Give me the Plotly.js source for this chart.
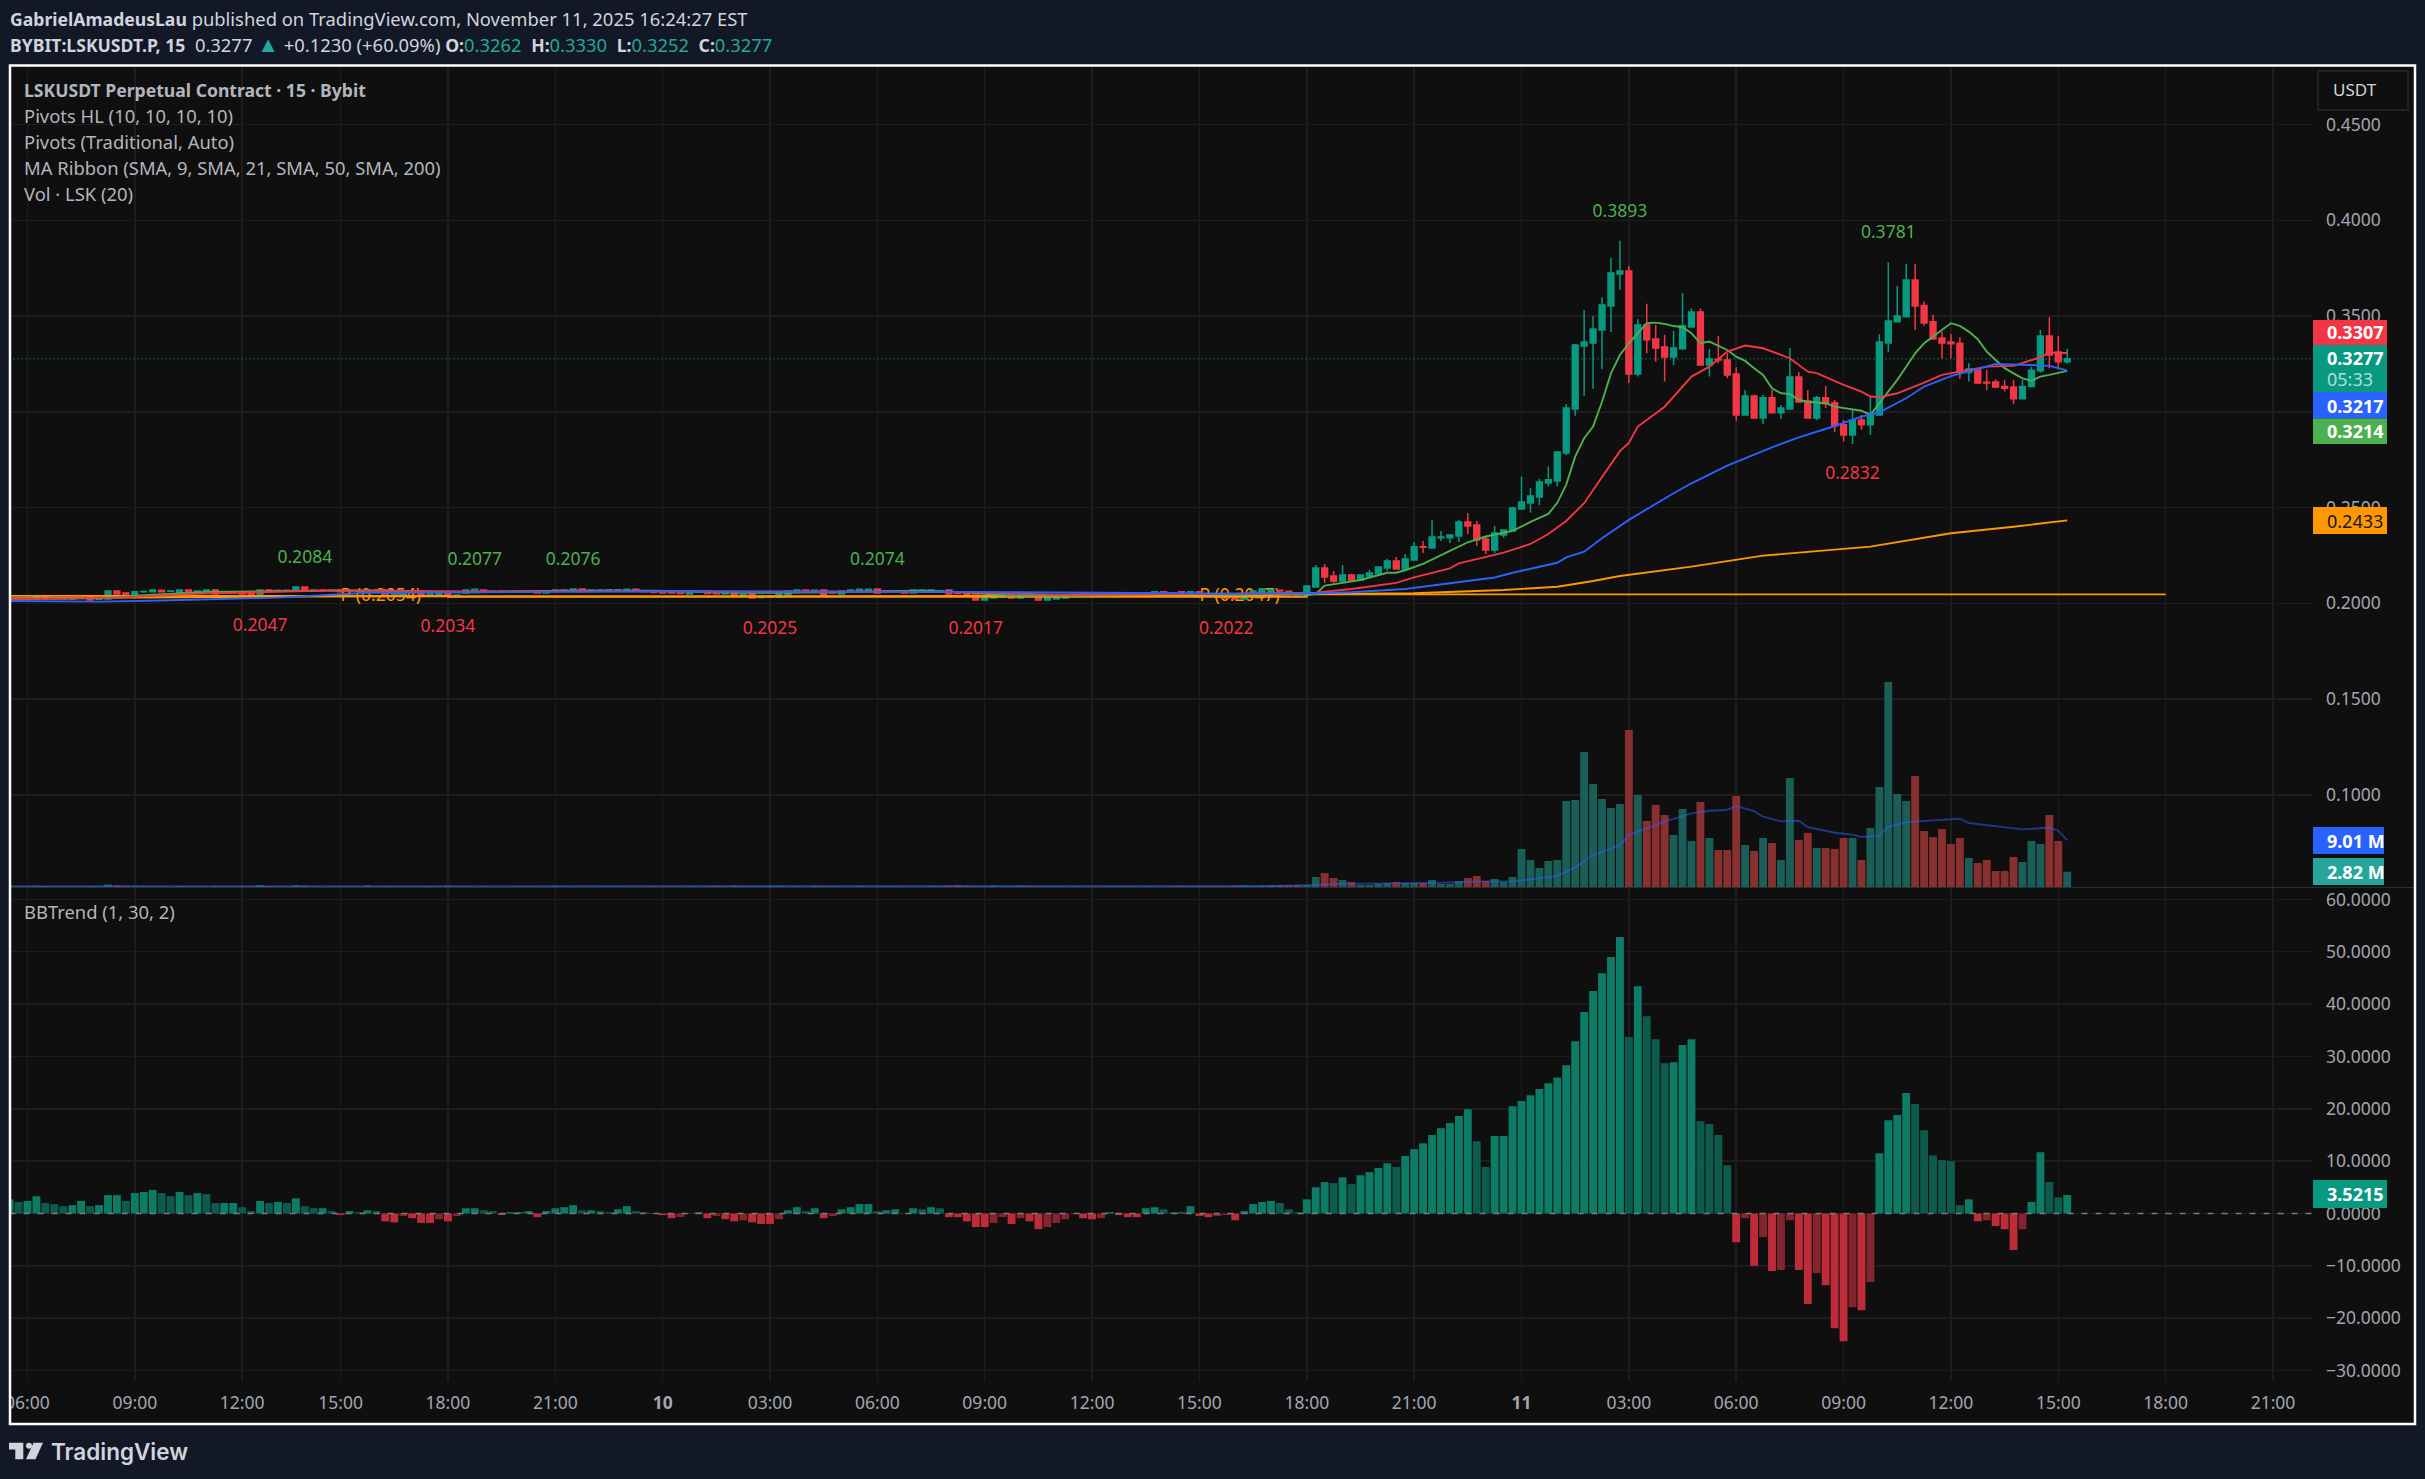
<!DOCTYPE html>
<html>
<head>
<meta charset="utf-8">
<script src="https://cdn.plot.ly/plotly-3.0.1.min.js"></script>
<style>html,body{margin:0;padding:0;background:#121826}</style>
</head>
<body>
<div id="myDiv" style="width:2425px;height:1479px"></div>
<script>
// bar 0 is 06:00 on the 9th, one bar is missing between 12:00 and 15:00
var firstBar = -2;
var tickBars = [0,12,24,35,47,59,71,83,95,107,119,131,143,155,167,179,191,203,215,227,239,251];
var tickText = ['06:00','09:00','12:00','15:00','18:00','21:00','<b>10</b>','03:00','06:00','09:00','12:00','15:00','18:00','21:00','<b>11</b>','03:00','06:00','09:00','12:00','15:00','18:00','21:00'];

var open = [
.2023,.2028,.2023,.2023,.2039,.2023,.2026,.2023,.2026,.2033,
.2021,.2023,.2065,.2054,.2039,.2060,.2060,.2068,.2063,.2054,
.2070,.2061,.2065,.2070,.2054,.2054,.2060,.2054,.2044,.2070,
.2065,.2065,.2065,.2086,.2065,.2070,.2067,.2070,.2065,.2067,
.2065,.2070,.2070,.2049,.2044,.2060,.2054,.2044,.2044,.2054,
.2039,.2054,.2070,.2070,.2063,.2065,.2062,.2065,.2063,.2065,
.2054,.2065,.2068,.2065,.2075,.2065,.2068,.2068,.2068,.2065,
.2074,.2062,.2060,.2060,.2060,.2054,.2049,.2060,.2064,.2052,
.2050,.2054,.2039,.2049,.2030,.2033,.2033,.2044,.2065,.2070,
.2060,.2070,.2060,.2049,.2065,.2065,.2065,.2075,.2060,.2060,
.2065,.2054,.2065,.2065,.2060,.2070,.2060,.2054,.2044,.2018,
.2028,.2033,.2049,.2028,.2054,.2044,.2018,.2023,.2028,.2039,
.2054,.2049,.2049,.2039,.2049,.2049,.2039,.2039,.2049,.2060,
.2054,.2060,.2044,.2060,.2049,.2044,.2039,.2039,.2023,.2044,
.2044,.2060,.2068,.2063,.2056,.2042,.2086,.2185,.2143,.2117,
.2148,.2120,.2143,.2154,.2185,.2221,.2179,.2227,.2295,.2289,
.2342,.2342,.2352,.2425,.2409,.2336,.2279,.2357,.2378,.2493,
.2524,.2556,.2629,.2639,.2785,.3015,.3344,.3360,.3428,.3553,
.3720,.3736,.3198,.3454,.3381,.3339,.3287,.3329,.3443,.3521,
.3245,.3275,.3271,.3198,.2984,.3083,.2968,.3073,.2995,.3015,
.3182,.3057,.2968,.3073,.3047,.2932,.2879,.2958,.2932,.2984,
.3360,.3470,.3496,.3689,.3556,.3470,.3386,.3365,.3358,.3205,
.3221,.3155,.3156,.3133,.3130,.3069,.3132,.3215,.3396,.3313,
.3262];
var close = [
.2023,.2016,.2026,.2039,.2023,.2026,.2023,.2026,.2028,.2018,
.2025,.2065,.2049,.2039,.2060,.2062,.2070,.2060,.2065,.2070,
.2060,.2065,.2070,.2049,.2060,.2060,.2049,.2044,.2070,.2065,
.2068,.2068,.2086,.2070,.2070,.2067,.2070,.2060,.2067,.2065,
.2070,.2067,.2049,.2054,.2060,.2054,.2044,.2049,.2054,.2039,
.2044,.2070,.2073,.2063,.2065,.2062,.2065,.2063,.2065,.2054,
.2065,.2070,.2070,.2075,.2061,.2070,.2070,.2071,.2071,.2074,
.2062,.2060,.2057,.2054,.2054,.2052,.2065,.2063,.2052,.2050,
.2054,.2039,.2046,.2028,.2039,.2039,.2049,.2065,.2070,.2060,
.2068,.2044,.2054,.2065,.2070,.2073,.2073,.2054,.2063,.2064,
.2054,.2070,.2070,.2070,.2065,.2049,.2052,.2039,.2018,.2033,
.2039,.2049,.2028,.2049,.2044,.2018,.2033,.2033,.2044,.2049,
.2044,.2039,.2039,.2054,.2039,.2039,.2049,.2054,.2060,.2049,
.2049,.2039,.2060,.2033,.2039,.2033,.2028,.2023,.2049,.2065,
.2075,.2070,.2065,.2049,.2044,.2091,.2185,.2138,.2117,.2148,
.2122,.2148,.2159,.2190,.2221,.2179,.2232,.2295,.2293,.2347,
.2347,.2357,.2425,.2404,.2331,.2279,.2368,.2383,.2498,.2529,
.2561,.2634,.2645,.2791,.3020,.3349,.3365,.3433,.3558,.3725,
.3736,.3198,.3454,.3376,.3334,.3287,.3334,.3449,.3521,.3245,
.3276,.3271,.3193,.2984,.3083,.2968,.3073,.2995,.3020,.3182,
.3052,.2968,.3073,.3042,.2927,.2879,.2958,.2932,.2991,.3365,
.3475,.3501,.3689,.3553,.3464,.3381,.3360,.3356,.3205,.3224,
.3151,.3151,.3130,.3123,.3069,.3133,.3217,.3396,.3297,.3261,
.3277];
var high = [
.2028,.2030,.2028,.2041,.2041,.2028,.2028,.2028,.2030,.2035,
.2026,.2067,.2067,.2056,.2060,.2067,.2070,.2070,.2067,.2072,
.2072,.2067,.2072,.2072,.2062,.2063,.2062,.2056,.2072,.2075,
.2070,.2070,.2088,.2088,.2072,.2072,.2072,.2072,.2070,.2070,
.2072,.2072,.2072,.2056,.2062,.2062,.2056,.2051,.2056,.2056,
.2046,.2072,.2077,.2072,.2067,.2067,.2067,.2067,.2067,.2067,
.2067,.2072,.2072,.2077,.2077,.2072,.2072,.2073,.2073,.2076,
.2076,.2064,.2062,.2062,.2062,.2056,.2067,.2065,.2066,.2054,
.2056,.2056,.2049,.2051,.2041,.2041,.2051,.2067,.2072,.2072,
.2070,.2072,.2062,.2067,.2072,.2075,.2075,.2077,.2065,.2066,
.2067,.2072,.2072,.2072,.2067,.2072,.2062,.2056,.2046,.2035,
.2041,.2051,.2051,.2051,.2056,.2046,.2035,.2035,.2046,.2051,
.2056,.2051,.2051,.2056,.2051,.2051,.2051,.2056,.2062,.2062,
.2056,.2062,.2062,.2062,.2051,.2046,.2041,.2041,.2051,.2067,
.2077,.2072,.2070,.2065,.2058,.2096,.2200,.2206,.2169,.2200,
.2154,.2148,.2175,.2190,.2232,.2242,.2258,.2321,.2326,.2436,
.2378,.2357,.2436,.2472,.2430,.2352,.2404,.2383,.2505,.2661,
.2601,.2650,.2714,.2796,.3041,.3354,.3532,.3501,.3598,.3804,
.3893,.3762,.3484,.3564,.3454,.3402,.3423,.3619,.3540,.3540,
.3328,.3396,.3306,.3233,.3114,.3089,.3089,.3114,.3036,.3334,
.3208,.3114,.3083,.3135,.3062,.2958,.3015,.2984,.3080,.3405,
.3781,.3657,.3772,.3772,.3576,.3507,.3419,.3407,.3390,.3254,
.3224,.3219,.3170,.3167,.3167,.3167,.3236,.3428,.3494,.3397,
.3330];
var low = [
.2018,.2014,.2021,.2023,.2021,.2021,.2021,.2023,.2024,.2016,
.2018,.2023,.2047,.2037,.2037,.2056,.2058,.2058,.2061,.2054,
.2058,.2060,.2063,.2047,.2052,.2054,.2049,.2044,.2042,.2063,
.2063,.2063,.2065,.2068,.2063,.2065,.2065,.2058,.2063,.2063,
.2063,.2065,.2047,.2047,.2042,.2052,.2042,.2042,.2042,.2037,
.2037,.2052,.2068,.2061,.2061,.2060,.2060,.2061,.2061,.2052,
.2052,.2063,.2065,.2063,.2060,.2063,.2066,.2066,.2066,.2065,
.2060,.2058,.2055,.2052,.2052,.2050,.2047,.2058,.2050,.2049,
.2048,.2037,.2037,.2026,.2028,.2030,.2031,.2042,.2063,.2058,
.2058,.2042,.2052,.2047,.2063,.2063,.2063,.2052,.2058,.2058,
.2052,.2052,.2063,.2063,.2058,.2047,.2050,.2037,.2016,.2016,
.2026,.2031,.2026,.2026,.2042,.2016,.2016,.2021,.2026,.2037,
.2042,.2037,.2037,.2037,.2037,.2037,.2037,.2037,.2047,.2047,
.2047,.2037,.2042,.2031,.2037,.2031,.2026,.2021,.2021,.2042,
.2042,.2058,.2063,.2047,.2042,.2042,.2086,.2106,.2106,.2106,
.2112,.2120,.2133,.2154,.2169,.2179,.2179,.2227,.2263,.2289,
.2326,.2315,.2321,.2362,.2300,.2258,.2263,.2342,.2378,.2493,
.2474,.2514,.2610,.2610,.2775,.2979,.3083,.3120,.3224,.3417,
.3637,.3151,.3184,.3306,.3261,.3158,.3245,.3324,.3443,.3245,
.3184,.3254,.3175,.2954,.2984,.2968,.2937,.2993,.2963,.3015,
.3048,.2968,.2958,.3020,.2895,.2845,.2832,.2906,.2879,.2984,
.3313,.3470,.3496,.3428,.3449,.3376,.3278,.3278,.3172,.3158,
.3146,.3114,.3123,.3106,.3040,.3068,.3129,.3205,.3228,.3222,
.3252];

// volume in millions
var volume = [
.20,.22,.18,.30,.24,.16,.18,.15,.20,.26,
.18,.52,.34,.30,.28,.20,.18,.22,.16,.24,
.20,.18,.16,.26,.18,.16,.22,.20,.42,.24,
.18,.16,.40,.30,.18,.16,.20,.22,.18,.16,
.34,.20,.24,.18,.22,.16,.18,.26,.16,.30,
.20,.18,.16,.14,.16,.14,.16,.22,.18,.14,
.16,.24,.22,.16,.14,.14,.16,.20,.22,.16,
.14,.14,.18,.16,.20,.16,.22,.14,.18,.24,
.18,.28,.20,.22,.18,.26,.24,.16,.22,.16,
.24,.18,.20,.16,.14,.26,.16,.14,.20,.22,
.14,.14,.16,.26,.20,.28,.40,.26,.22,.20,
.28,.20,.18,.30,.24,.18,.20,.18,.16,.18,
.16,.14,.16,.18,.20,.22,.16,.18,.16,.14,
.22,.26,.20,.24,.18,.26,.22,.30,.34,.24,
.30,.36,.42,.42,.42,.42,1.86,2.58,1.68,1.32,
.96,.42,.42,.66,.78,.96,.78,.78,.78,1.32,
.60,.60,1.14,1.68,2.04,1.14,1.50,.96,1.86,6.90,
4.92,3.48,4.74,4.92,15.54,15.72,24.36,18.60,15.90,14.28,
15.00,28.32,16.62,11.94,14.82,13.02,9.42,14.10,8.34,15.36,
8.88,6.72,6.72,16.44,7.62,6.54,8.88,7.98,4.92,19.68,
8.52,9.78,7.08,7.08,6.90,8.88,8.88,4.92,10.68,18.06,
36.96,16.80,15.54,20.04,10.14,9.06,10.50,7.80,8.88,5.28,
4.38,4.92,2.94,2.94,5.46,4.56,8.34,7.80,13.02,8.34,
2.82];
var volMaBars = [-2,60,140,144,146,152,158,163,166,168,171,173,175,178,179,183,186,188,190,191,193,194,196,198,199,202,204,205,207,208,210,213,216,217,221,223,226,227,228];
var volMa = [.22,.24,.24,.42,.60,.72,.84,1.08,1.08,1.44,2.04,3.60,5.82,7.62,9.42,11.82,13.32,13.80,13.98,14.64,13.74,12.72,11.88,12.00,10.86,9.84,9.48,9.06,9.30,10.92,11.70,12.06,12.36,11.58,10.74,10.44,10.74,10.20,8.46];

var bbTrend = [
2.7,2.2,2.4,3.3,2.0,1.8,1.4,1.6,2.4,1.4,
1.6,3.5,3.5,2.4,3.9,4.1,4.5,3.9,3.3,4.1,
3.5,3.9,3.7,2,2,2,1.2,.45,2.4,2,
2.2,2,2.9,1.4,1,1,.45,-.3,.45,.25,
.6,.45,-1.5,-1.7,-.5,-.9,-1.8,-1.8,-1.1,-1.5,
-.5,1,1,.6,.45,-.3,.25,.25,.45,-.7,
.45,1,1.2,1.6,.6,.6,.45,.25,.8,1.4,
.45,.25,-.1,-.3,-.9,-.7,-.1,.25,-.9,-.5,
-1.1,-1.5,-1.3,-1.7,-2,-2,-1.1,.6,1.2,.45,
1,-.9,-.5,.8,1.2,1.8,1.8,.45,.6,.8,
.05,1,.8,1.2,1,-.7,-.7,-1.5,-2.6,-2.6,
-1.8,-.7,-2,-.9,-1.5,-3,-2.6,-1.8,-1.1,-.1,
-.9,-1.1,-.9,.25,-.3,-.7,-.7,1,1.2,.8,
.25,.25,1.4,-.5,-.7,-.5,-.3,-1.3,.45,1.8,
2.2,2.4,2,.8,.25,2.7,5,6,5.8,6.9,
5.6,7.3,7.9,8.7,9.6,8.9,11,12.3,13.4,15,
16.3,17.3,18.6,19.9,13.8,8.9,14.8,14.8,20.5,21.5,
22.6,23.8,24.9,26,28.3,32.9,38.5,42.5,45.9,49,
52.8,33.7,43.4,37.7,33.3,28.7,28.9,32.2,33.3,17.6,
17.1,15,9.2,-5.5,-.9,-10,-4.5,-11,-10.8,-1.3,
-10.8,-17.3,-11.4,-13.7,-21.9,-24.4,-17.9,-18.5,-13.1,11.5,
17.8,18.8,23,20.9,15.9,11.1,10.2,10,1.6,2.7,
-1.5,-1.3,-2.4,-3,-7,-3,2.2,11.7,6,3.1,
3.52];

var ma9Bars = [-2,8,12,20,30,37,45,50,60,70,80,90,100,104,110,118,128,135,140,143,144,145,147,149,152,153,154,156,159,161,163,166,168,170,171,172,173,174,175,176,177,178,179,180,181,182,183,184,185,186,187,188,189,190,191,192,193,194,195,196,197,198,199,200,201,202,203,204,205,206,207,208,209,210,211,212,213,214,215,216,217,218,219,220,221,222,223,224,225,226,227,228];
var ma9 = [.2024,.2026,.2040,.2060,.2065,.2068,.2060,.2058,.2066,.2066,.2055,.2058,.2066,.2060,.2040,.2040,.2050,.2045,.2052,.2046,.2049,.2093,.2107,.2122,.2160,.2160,.2173,.2206,.2274,.2319,.2349,.2378,.2425,.2467,.2525,.2620,.2766,.2862,.2923,.3053,.3201,.3297,.3358,.3410,.3463,.3466,.3459,.3448,.3442,.3410,.3358,.3367,.3346,.3323,.3288,.3266,.3228,.3193,.3123,.3097,.3094,.3062,.3053,.3050,.3045,.3027,.3020,.3013,.3006,.2984,.3045,.3106,.3167,.3236,.3306,.3358,.3393,.3428,.3463,.3449,.3419,.3379,.3315,.3271,.3228,.3201,.3175,.3163,.3184,.3193,.3205,.3214];
var ma21Bars = [-2,10,20,35,50,65,80,95,105,115,130,144,148,151,153,155,159,160,162,165,168,170,172,174,176,178,179,180,183,186,188,190,192,194,197,199,200,203,205,206,207,209,212,214,216,219,222,225,226,228];
var ma21 = [.2022,.2030,.2052,.2068,.2062,.2065,.2062,.2062,.2058,.2045,.2048,.2056,.2075,.2093,.2107,.2136,.2183,.2209,.2232,.2265,.2310,.2362,.2430,.2523,.2660,.2795,.2838,.2923,.3027,.3184,.3236,.3315,.3346,.3332,.3280,.3210,.3202,.3141,.3106,.3080,.3076,.3097,.3153,.3193,.3210,.3236,.3240,.3285,.3309,.3307];
var ma50Bars = [-2,8,15,28,38,50,70,90,105,120,135,144,148,154,159,161,164,166,169,171,172,174,176,178,179,184,186,190,195,198,202,205,207,210,212,215,220,224,226,228];
var ma50 = [.2012,.2009,.2015,.2030,.2055,.2058,.2062,.2060,.2060,.2055,.2050,.2053,.2058,.2075,.2105,.2120,.2135,.2160,.2192,.2212,.2240,.2270,.2340,.2405,.2436,.2575,.2627,.2719,.2815,.2867,.2926,.2975,.2998,.3071,.3132,.3187,.3250,.3245,.3240,.3217];
var ma200Bars = [-2,10,30,60,100,135,144,155,165,171,175,178,186,194,206,212,215,222,228];
var ma200 = [.2026,.2030,.2036,.2037,.2037,.2040,.2048,.2053,.2070,.2087,.2117,.2143,.2192,.2249,.2296,.2345,.2366,.2400,.2433];

// pivot point segments
var pivotBars = [-2,47,47,143,143,239];
var pivotLevels = [.2039,.2039,.2034,.2034,.2047,.2047];
var pivotLabelBars = [35,131];
var pivotLabels = ['P (0.2054)','P (0.2047)'];

// pivot high/low texts, second array is where the text sits on the price scale
var highBars = [31,50,61,95,178,208];
var highLabels = ['0.2084','0.2077','0.2076','0.2074','0.3893','0.3781'];
var highPos = [.2232,.2222,.2222,.2222,.4039,.3929];
var lowBars = [26,47,83,106,134,204];
var lowLabels = ['0.2047','0.2034','0.2025','0.2017','0.2022','0.2832'];
var lowPos = [.1877,.1872,.1863,.1862,.1862,.2672];

var lastPrice = .3277;

var barIdx = [];
for (var i = 0; i < close.length; i++) barIdx.push(firstBar + i);

var TEAL = '#089981', RED = '#F23645', ORANGE = '#FF9800', GREEN = '#4CAF50', BLUE = '#2962FF';
var FONT = '"Noto Sans", sans-serif';

var volColors = [], bbColors = [];
for (var i = 0; i < close.length; i++) {
  volColors.push(close[i] >= open[i] ? '#1B5E57' : '#87302F');
  var prev = i > 0 ? bbTrend[i - 1] : bbTrend[i];
  if (bbTrend[i] >= 0) bbColors.push(bbTrend[i] >= prev ? '#0C7C67' : '#0D5B4D');
  else bbColors.push(bbTrend[i] <= prev ? '#BE2C3A' : '#85242F');
}

function maLine(x, y, color) {
  return {type: 'scatter', mode: 'lines', x: x, y: y, yaxis: 'y2', line: {color: color, width: 1.9}, hoverinfo: 'skip'};
}
function labelTrace(x, y, text, color) {
  return {type: 'scatter', mode: 'text', x: x, y: y, yaxis: 'y2', text: text, textposition: 'middle center',
    textfont: {family: FONT, size: 17.5, color: color}, hoverinfo: 'skip'};
}

var data = [
  {type: 'bar', x: barIdx, y: volume, marker: {color: volColors, line: {width: 0}}, yaxis: 'y', hoverinfo: 'skip'},
  {type: 'scatter', mode: 'lines', x: volMaBars, y: volMa, yaxis: 'y', line: {color: 'rgba(41,98,255,0.5)', width: 1.9}, hoverinfo: 'skip'},
  // the P (...) texts sit behind the candles, so they go on the volume axis below the price overlay
  {type: 'scatter', mode: 'text', x: pivotLabelBars, y: [52.4, 52.4], yaxis: 'y', text: pivotLabels, textposition: 'middle right',
    textfont: {family: FONT, size: 17.5, color: ORANGE}, hoverinfo: 'skip'},
  {type: 'candlestick', x: barIdx, open: open, high: high, low: low, close: close, yaxis: 'y2',
    increasing: {line: {color: TEAL, width: 1.5}, fillcolor: TEAL},
    decreasing: {line: {color: RED, width: 1.5}, fillcolor: RED},
    whiskerwidth: 0, hoverinfo: 'skip'},
  {type: 'scatter', mode: 'lines', x: [-2, 256], y: [lastPrice, lastPrice], yaxis: 'y2', line: {color: TEAL, width: 1.2, dash: '1px 3px'}, hoverinfo: 'skip'},
  {type: 'scatter', mode: 'lines', x: pivotBars, y: pivotLevels, yaxis: 'y2', line: {color: ORANGE, width: 1.9}, hoverinfo: 'skip'},
  maLine(ma200Bars, ma200, ORANGE),
  maLine(ma9Bars, ma9, GREEN),
  maLine(ma21Bars, ma21, RED),
  maLine(ma50Bars, ma50, BLUE),
  labelTrace(highBars, highPos, highLabels, GREEN),
  labelTrace(lowBars, lowPos, lowLabels, RED),
  {type: 'bar', x: barIdx, y: bbTrend, marker: {color: bbColors, line: {width: 0}}, yaxis: 'y3', hoverinfo: 'skip'},
  {type: 'scatter', mode: 'lines', x: [-2, 256], y: [0, 0], yaxis: 'y3', line: {color: '#787B86', width: 1.3, dash: '6px 8px'}, hoverinfo: 'skip'}
];

// pixel helpers for the page chrome, plot area runs 11..2312 and 66..1381
function xp(px) { return (px - 11) / 2301; }
function yp(py) { return (1381 - py) / 1315; }
function box(x0, y0, x1, y1, fill, line, layer) {
  return {type: 'rect', xref: 'paper', yref: 'paper', x0: xp(x0), x1: xp(x1), y0: yp(y0), y1: yp(y1),
    fillcolor: fill, line: line || {width: 0}, layer: layer || 'above'};
}
function poly(points, fill) {
  var d = points.map(function (p, n) { return (n ? 'L' : 'M') + xp(p[0]) + ' ' + yp(p[1]); }).join(' ') + ' Z';
  return {type: 'path', xref: 'paper', yref: 'paper', path: d, fillcolor: fill, line: {width: 0}, layer: 'above'};
}
function note(px, py, text, size, color, extra) {
  var a = {xref: 'paper', yref: 'paper', x: xp(px), y: yp(py), xanchor: 'left', yanchor: 'middle', showarrow: false,
    text: text, font: {family: FONT, size: size, color: color}};
  for (var k in extra) a[k] = extra[k];
  return a;
}

var LOGO = '#D1D4DC';
var shapes = [
  box(10, 65, 2415, 1424, '#0F0F0F', {width: 0}, 'below'),
  box(0, 0, 9, 1479, '#121826'),
  box(11, 887, 2414, 888, '#2A2E39'),
  box(2318, 71, 2408, 110, 'rgba(0,0,0,0)', {color: '#2A2A2A', width: 1.5}),
  box(10, 65.5, 2415, 1424, 'rgba(0,0,0,0)', {color: '#FFFFFF', width: 2.5}),
  // value tags on the price scale
  box(2313, 320, 2387, 345, RED),
  box(2313, 345, 2387, 392, TEAL),
  box(2313, 392, 2387, 418.5, BLUE),
  box(2313, 418.5, 2387, 444, GREEN),
  box(2313, 507, 2387, 534, ORANGE),
  box(2313, 827, 2384, 854, BLUE),
  box(2313, 858, 2384, 885, '#26A69A'),
  box(2313, 1180, 2387, 1208, TEAL),
  // footer logo
  poly([[9, 1442.7], [23.3, 1442.7], [23.3, 1459.3], [15.3, 1459.3], [15.3, 1449.5], [9, 1449.5]], LOGO),
  poly([[33.5, 1442.7], [43, 1442.7], [35.5, 1459.3], [26, 1459.3]], LOGO),
  {type: 'circle', xref: 'paper', yref: 'paper', x0: xp(26), x1: xp(32), y0: yp(1442.7), y1: yp(1448.7), fillcolor: LOGO, line: {width: 0}, layer: 'above'}
];

var TAGSIZE = 18, HEADSIZE = 18.4, LEGCOL = '#B2B5BE';
var TV = '#26A69A';
function bold(s) { return '<b><span style="font-size:17.6px">' + s + '</span></b>'; }
function ohlc(k, v) { return bold(k + ':') + '<span style="color:' + TV + '">' + v + '</span>  '; }
var annotations = [
  note(8, 19, bold('GabrielAmadeusLau') + ' published on TradingView.com, November 11, 2025 16:24:27 EST', HEADSIZE, '#D1D4DC'),
  note(8, 42.5, bold('BYBIT:LSKUSDT.P, 15') + '  0.3277 <span style="color:' + TV + ';font-size:22px">▲</span> +0.1230 (+60.09%) ' +
    ohlc('O', '0.3262') + ohlc('H', '0.3330') + ohlc('L', '0.3252') + ohlc('C', '0.3277'), HEADSIZE, '#D1D4DC'),
  note(22, 89.5, bold('LSKUSDT Perpetual Contract · 15 · Bybit'), HEADSIZE, LEGCOL),
  note(22, 115.5, 'Pivots HL (10, 10, 10, 10)', HEADSIZE, LEGCOL),
  note(22, 141.5, 'Pivots (Traditional, Auto)', HEADSIZE, LEGCOL),
  note(22, 167.5, 'MA Ribbon (SMA, 9, SMA, 21, SMA, 50, SMA, 200)', HEADSIZE, LEGCOL),
  note(22, 193.5, 'Vol · LSK (20)', HEADSIZE, LEGCOL),
  note(22, 911, 'BBTrend (1, 30, 2)', HEADSIZE, LEGCOL),
  note(2330.5, 89.5, 'USDT', 17, '#D1D4DC'),
  note(2325, 332.5, '<b>0.3307</b>', TAGSIZE, '#FFFFFF'),
  note(2325, 358, '<b>0.3277</b>', TAGSIZE, '#FFFFFF'),
  note(2325, 379, '05:33', TAGSIZE, 'rgba(255,255,255,0.7)'),
  note(2325, 405.5, '<b>0.3217</b>', TAGSIZE, '#FFFFFF'),
  note(2325, 431, '<b>0.3214</b>', TAGSIZE, '#FFFFFF'),
  note(2325, 520.5, '0.2433', TAGSIZE, '#131722'),
  note(2325, 840.5, '<b>9.01 M</b>', TAGSIZE, '#FFFFFF'),
  note(2325, 871.5, '<b>2.82 M</b>', TAGSIZE, '#FFFFFF'),
  note(2325, 1194, '<b>3.5215</b>', TAGSIZE, '#FFFFFF'),
  note(49, 1451.5, 'TradingView', 22.5, LOGO, {font: {family: 'Inter, sans-serif', size: 22.5, color: LOGO, weight: 600}})
];

var GRID = '#1D1D1D';
var layout = {
  width: 2425, height: 1479,
  margin: {l: 11, r: 113, t: 66, b: 98, pad: 0},
  paper_bgcolor: '#121826', plot_bgcolor: 'rgba(0,0,0,0)',
  showlegend: false, barmode: 'overlay', bargap: 0.12, boxgap: 0.35, boxgroupgap: 0,
  font: {family: FONT, size: 17.5, color: '#A3A6AF'},
  xaxis: {
    range: [-1.84, 255.36], tickmode: 'array', tickvals: tickBars, ticktext: tickText,
    showgrid: true, gridcolor: GRID, gridwidth: 1.5, zeroline: false, showline: false, ticks: '',
    rangeslider: {visible: false}, anchor: 'y3', tickfont: {size: 17.5, color: '#A3A6AF'}, ticklabelstandoff: 9
  },
  yaxis: {domain: [0.3754, 1], range: [0, 147.9], visible: false, showgrid: false, zeroline: false},
  yaxis2: {
    overlaying: 'y', side: 'right', anchor: 'x', range: [.0517, .4806], tickmode: 'array',
    tickvals: [.10, .15, .20, .25, .30, .35, .40, .45], tickformat: '.4f',
    showgrid: true, gridcolor: GRID, gridwidth: 1.5, zeroline: false, ticks: '', ticklabelstandoff: 13,
    tickfont: {size: 17.5, color: '#A3A6AF'}
  },
  yaxis3: {
    domain: [0, 0.3746], side: 'right', anchor: 'x', range: [-32.0, 62.1], tickmode: 'array',
    tickvals: [-30, -20, -10, 0, 10, 20, 30, 40, 50, 60], tickformat: '.4f',
    showgrid: true, gridcolor: GRID, gridwidth: 1.5, zeroline: false, ticks: '', ticklabelstandoff: 13,
    tickfont: {size: 17.5, color: '#A3A6AF'}
  },
  shapes: shapes,
  annotations: annotations
};

Plotly.newPlot('myDiv', data, layout, {displayModeBar: false, staticPlot: true});
</script>
</body>
</html>
